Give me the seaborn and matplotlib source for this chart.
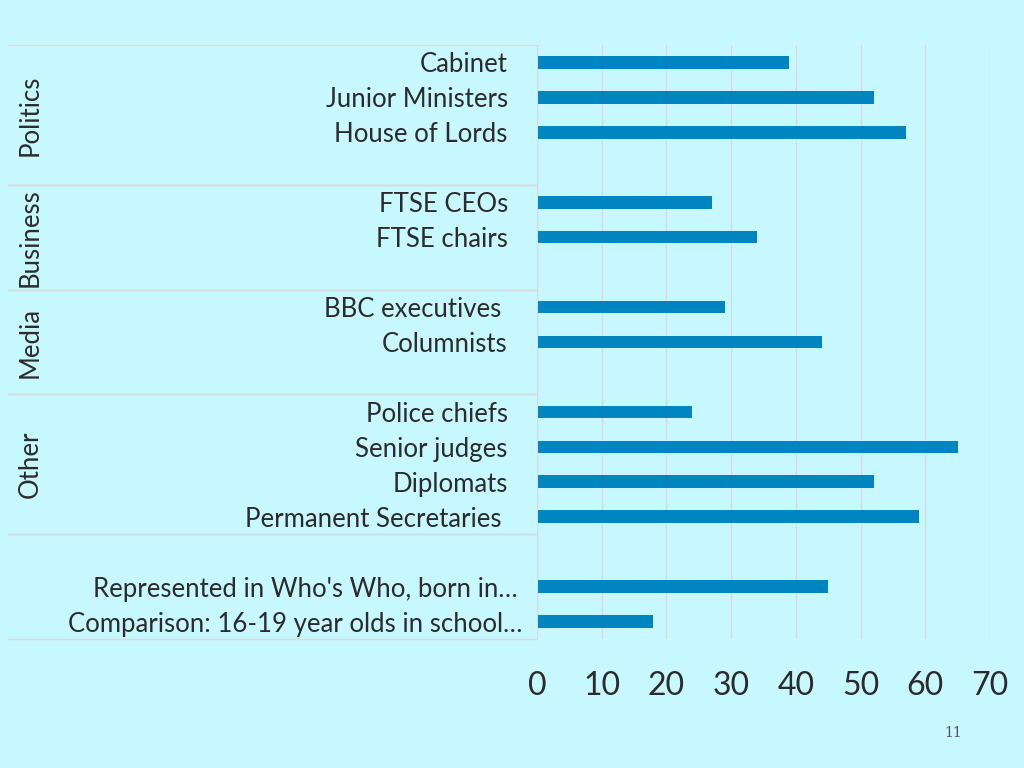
import pandas as pd
import numpy as np
import matplotlib
matplotlib.use("Agg")
import matplotlib.pyplot as plt
import matplotlib.transforms as mtransforms
import seaborn as sns

# data (% privately educated)
labels = ["Cabinet", "Junior Ministers", "House of Lords",
          "FTSE CEOs", "FTSE chairs",
          "BBC executives ", "Columnists",
          "Police chiefs", "Senior judges", "Diplomats", "Permanent Secretaries ",
          "Represented in Who's Who, born in…", "Comparison: 16-19 year olds in school…"]
values = [39, 52, 57, 27, 34, 29, 44, 24, 65, 52, 59, 45, 18]

# row order, blank slots between groups
row_order = ["Cabinet", "Junior Ministers", "House of Lords", " ",
             "FTSE CEOs", "FTSE chairs", "  ",
             "BBC executives ", "Columnists", "   ",
             "Police chiefs", "Senior judges", "Diplomats", "Permanent Secretaries ", "    ",
             "Represented in Who's Who, born in…", "Comparison: 16-19 year olds in school…"]

group_names = ["Politics", "Business", "Media", "Other", ""]
group_bounds = [(-0.5, 3.5), (3.5, 6.5), (6.5, 9.5), (9.5, 13.5), (13.5, 16.5)]

xticks = [0, 10, 20, 30, 40, 50, 60, 70]

df = pd.DataFrame({"label": labels, "value": values})

bg = "#C8F8FF"
bar_col = "#0085C0"
txt = "#2B2B2B"
line_col = "#D4DCDE"

sns.set_style("white")
plt.rcParams['font.family'] = ['Lato', 'DejaVu Sans']

fig = plt.figure(figsize=(10.24, 7.68), dpi=100, facecolor=bg)
ax = fig.add_axes([537/1024, 1-639/768, (990-537)/1024, (639-45)/768])
ax.set_facecolor(bg)

sns.barplot(data=df, x="value", y="label", order=row_order, color=bar_col,
            width=0.36, orient="h", ax=ax, saturation=1, linewidth=0)

ax.set_xlim(0, 70)
ax.set_ylim(16.5, -0.5)
ax.set_xticks(xticks)
ax.set_xlabel("")
ax.set_ylabel("")
ax.grid(axis="x", color=line_col, linewidth=1)
ax.set_axisbelow(True)
for s in ["top", "right", "bottom"]:
    ax.spines[s].set_visible(False)
ax.spines["left"].set_color(line_col)
ax.tick_params(axis="x", length=0, pad=23, labelsize=23, labelcolor=txt)
ax.tick_params(axis="y", length=0, pad=21, labelsize=18.5, labelcolor=txt)

# the last two labels sit a little closer to the axis in the original
for lab in ax.get_yticklabels():
    shift = {"Represented in Who's Who, born in…": 10,
             "Comparison: 16-19 year olds in school…": 15}.get(lab.get_text(), 0)
    if shift:
        lab.set_transform(lab.get_transform() +
                          mtransforms.ScaledTranslation(shift / 100, 0, fig.dpi_scale_trans))

# group separators and group labels
x0 = -(537 - 8) / 453
trans = ax.get_yaxis_transform()
for name, (lo, hi) in zip(group_names, group_bounds):
    ax.plot([x0, 0], [lo, lo], color=line_col, lw=1, transform=trans, clip_on=False)
    ax.plot([x0, 0], [hi, hi], color=line_col, lw=1, transform=trans, clip_on=False)
    if name:
        ax.text(x0 + 22/453, (lo + hi) / 2, name, rotation=90, ha="center", va="center",
                fontsize=18.5, color=txt, transform=trans)

fig.text(953/1024, 1-733/768, "11", fontsize=10, color="#555555",
         family="DejaVu Serif", ha="center", va="center")

fig.savefig("out.png", dpi=100, facecolor=bg)
